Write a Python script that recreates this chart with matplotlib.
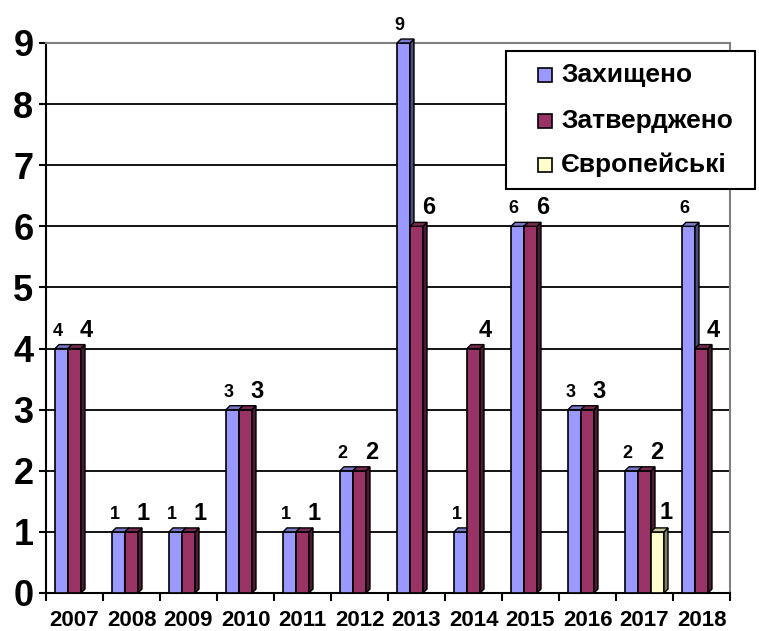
import numpy as np
import matplotlib
matplotlib.use("Agg")
import matplotlib.pyplot as plt
from matplotlib.patches import Polygon, Rectangle

years = ["2007", "2008", "2009", "2010", "2011", "2012",
         "2013", "2014", "2015", "2016", "2017", "2018"]
series_names = ["Захищено", "Затверджено", "Європейські"]
zahyshcheno = [4, 1, 1, 3, 1, 2, 9, 1, 6, 3, 2, 6]
zatverdzheno = [4, 1, 1, 3, 1, 2, 6, 4, 6, 3, 2, 4]
yevropeiski = [0, 0, 0, 0, 0, 0, 0, 0, 0, 0, 1, 0]

colors = ["#9999FF", "#993366", "#FFFFCC"]
side_colors = ["#4C4C80", "#4D1A33", "#808066"]
top_colors = ["#7A7ACC", "#7A2952", "#CCCCA3"]
label_sizes = [13, 17, 17]
label_offsets = [(-4, 9), (12, 7), (9, 8)]

FONT = "Liberation Sans"
W, H = 759, 631

fig = plt.figure(figsize=(W / 100, H / 100), dpi=100)
ax = fig.add_axes([46 / W, 38 / H, 684 / W, 550 / H])

x = np.arange(len(years))
width = 0.228
dx, dy = 0.07, 0.065

all_series = [zahyshcheno, zatverdzheno, yevropeiski]
for i, vals in enumerate(all_series):
    pos = x + (i - 1) * width
    for xp, v in zip(pos, vals):
        if v <= 0:
            continue
        ax.bar(xp, v, width, color=colors[i], edgecolor="black", linewidth=1.2, zorder=3)
        x0, x1 = xp - width / 2, xp + width / 2
        side = Polygon([(x1, 0), (x1 + dx, dy), (x1 + dx, v + dy), (x1, v)],
                       closed=True, facecolor=side_colors[i], edgecolor="black",
                       linewidth=1.0, zorder=3, clip_on=False)
        top = Polygon([(x0, v), (x0 + dx, v + dy), (x1 + dx, v + dy), (x1, v)],
                      closed=True, facecolor=top_colors[i], edgecolor="black",
                      linewidth=1.0, zorder=3, clip_on=False)
        ax.add_patch(side)
        ax.add_patch(top)
        ax.annotate(str(v), (xp, v), xytext=label_offsets[i], textcoords="offset pixels",
                    ha="center", va="bottom", fontsize=label_sizes[i],
                    fontweight="bold", family=FONT, annotation_clip=False, zorder=5)

ax.set_xlim(-0.5, len(years) - 0.5)
ax.set_ylim(0, 9)

# gridlines
for yv in range(1, 9):
    ax.axhline(yv, color="black", linewidth=1.3, zorder=1)

ax.spines["top"].set_color("#808080")
ax.spines["right"].set_color("#808080")
ax.spines["top"].set_linewidth(1.5)
ax.spines["right"].set_linewidth(1.5)
ax.spines["left"].set_linewidth(1.5)
ax.spines["bottom"].set_linewidth(1.5)

ax.set_yticks(range(0, 10))
ax.set_yticklabels([str(v) for v in range(0, 10)], fontsize=26, fontweight="bold", family=FONT)
ax.tick_params(axis="y", length=5, width=1.5, pad=4)

ax.set_xticks(x)
ax.set_xticklabels(years, fontsize=16, fontweight="bold", family=FONT)
ax.set_xticks(np.arange(-0.5, len(years)), minor=True)
ax.tick_params(axis="x", which="major", length=0, pad=12)
ax.tick_params(axis="x", which="minor", length=6, width=1.5)

# legend box
lx0, ly0, lx1, ly1 = 506, 51, 755, 189
fig.patches.append(Rectangle((lx0 / W, 1 - ly1 / H), (lx1 - lx0) / W, (ly1 - ly0) / H,
                             transform=fig.transFigure, facecolor="white",
                             edgecolor="black", linewidth=1.5, zorder=10))
row_y = [75, 121, 165]
for name, c, ry in zip(series_names, colors, row_y):
    fig.patches.append(Rectangle((538 / W, 1 - (ry + 7) / H), 14 / W, 14 / H,
                                 transform=fig.transFigure, facecolor=c,
                                 edgecolor="black", linewidth=1.2, zorder=11))
    fig.text(561 / W, 1 - ry / H, name, fontsize=19, fontweight="bold", family=FONT,
             ha="left", va="center", zorder=12)

fig.savefig("out.png", dpi=100)
